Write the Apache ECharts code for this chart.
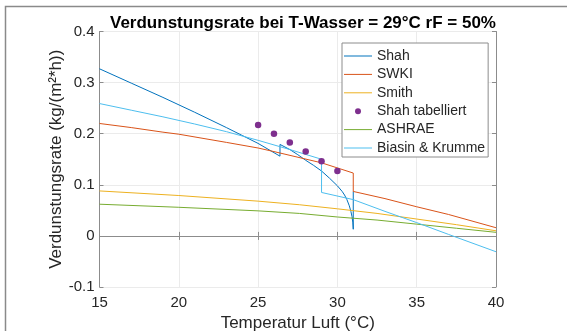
<!DOCTYPE html>
<html><head><meta charset="utf-8">
<script src="https://cdn.jsdelivr.net/npm/echarts@6/dist/echarts.min.js"></script>
<style>html,body{margin:0;padding:0;background:#fff}#c{width:567px;height:331px}</style>
</head><body><div id="c"></div>
<script>
const xTicks = [15, 20, 25, 30, 35, 40];
const yTicks = [-0.1, 0, 0.1, 0.2, 0.3, 0.4];

const shahT = [15, 17, 19, 21, 23, 25, 26.38, 26.38, 27, 27.5, 28, 28.5, 29, 29.5, 30, 30.3, 30.45, 30.6, 30.75, 30.85, 30.92, 30.97, 31, 31];
const shahV = [0.327, 0.299, 0.271, 0.242, 0.212, 0.181, 0.156, 0.179, 0.169, 0.159, 0.148, 0.138, 0.127, 0.113, 0.098, 0.087, 0.080, 0.071, 0.059, 0.048, 0.038, 0.027, 0.013, 0.087];

const swkiT = [15, 17, 19, 20, 23, 25, 26, 29, 31, 31, 33, 35, 37, 40];
const swkiV = [0.220, 0.212, 0.203, 0.199, 0.183, 0.172, 0.165, 0.143, 0.123, 0.087, 0.073, 0.057, 0.042, 0.016];

const smithT = [15, 20, 25, 27.6, 30, 32.5, 35, 37.5, 40];
const smithV = [0.088, 0.079, 0.068, 0.061, 0.053, 0.044, 0.033, 0.022, 0.010];

const tabT = [25, 26, 27, 28, 29, 30];
const tabV = [0.217, 0.200, 0.183, 0.165, 0.146, 0.127];

const ashraeT = [15, 20, 25, 27.6, 30, 32.5, 35, 37.5, 40];
const ashraeV = [0.062, 0.056, 0.049, 0.044, 0.037, 0.031, 0.023, 0.015, 0.007];

const biasinT = [15, 17, 19, 21, 23, 25, 27, 29, 29, 31, 33, 35, 37, 40];
const biasinV = [0.259, 0.246, 0.233, 0.219, 0.204, 0.187, 0.169, 0.150, 0.085, 0.071, 0.048, 0.026, 0.003, -0.031];

const names = ['Shah', 'SWKI', 'Smith', 'Shah tabelliert', 'ASHRAE', 'Biasin & Krumme'];
const colors = ['#0072BD', '#D95319', '#EDB120', '#7E2F8E', '#77AC30', '#4DBEEE'];

const zip = (a, b) => a.map((v, i) => [v, b[i]]);
const FONT = '"Liberation Sans", Arial, sans-serif';

function lineSeries(name, color, T, V) {
  return { name, type: 'line', data: zip(T, V), showSymbol: false, symbol: 'none',
    lineStyle: { color, width: 1 }, itemStyle: { color }, z: 3 };
}

const chart = echarts.init(document.getElementById('c'), null, { renderer: 'canvas' });
const axisColor = '#8c8c8c';
const labelColor = '#262626';
const LINE_ICON = 'path://M0,0H28V1H0Z';
chart.setOption({
  animation: false,
  backgroundColor: '#fff',
  textStyle: { fontFamily: FONT },
  title: { text: 'Verdunstungsrate bei T-Wasser = 29°C rF = 50%', left: 298, textAlign: 'center', top: 10,
    textStyle: { fontFamily: FONT, fontSize: 17, fontWeight: 'bold', color: '#000' } },
  graphic: [{ type: 'rect', shape: { x: 5.5, y: 6.5, width: 700, height: 500 },
    style: { fill: 'none', stroke: '#8a8a8a', lineWidth: 1.5 }, silent: true, z: -10 }],
  legend: {
    orient: 'vertical', left: 342, top: 43, itemWidth: 28, itemHeight: 6, itemGap: 0.4,
    symbolKeepAspect: true,
    padding: [4, 3, 0, 2], backgroundColor: '#fff', borderColor: '#8c8c8c', borderWidth: 1,
    textStyle: { fontFamily: FONT, fontSize: 14, color: labelColor, lineHeight: 18 },
    data: names.map((n, i) => i === 3 ? { name: n, icon: 'circle' } : { name: n, icon: LINE_ICON })
  },
  grid: { left: 99.5, right: 71, top: 31.5, bottom: 44, show: false, containLabel: false, outerBoundsMode: 'none' },
  xAxis: [{
    type: 'value', min: xTicks[0], max: xTicks[xTicks.length - 1], interval: 5,
    name: 'Temperatur Luft (°C)', nameLocation: 'middle', nameGap: 28,
    nameTextStyle: { fontFamily: FONT, fontSize: 17, color: labelColor },
    axisLine: { show: true, lineStyle: { color: axisColor, width: 1 } },
    axisTick: { show: true, inside: true, length: 4, lineStyle: { color: axisColor } },
    axisLabel: { fontFamily: FONT, fontSize: 15, color: labelColor, margin: 8 },
    splitLine: { show: true, lineStyle: { color: '#ebebeb', width: 1 } }
  }, {
    type: 'value', position: 'top', min: xTicks[0], max: xTicks[xTicks.length - 1], interval: 5,
    axisLine: { show: true, lineStyle: { color: axisColor, width: 1 } },
    axisTick: { show: true, inside: true, length: 4, lineStyle: { color: axisColor } },
    axisLabel: { show: false }, splitLine: { show: false }
  }],
  yAxis: [{
    type: 'value', min: yTicks[0], max: yTicks[yTicks.length - 1], interval: 0.1,
    name: 'Verdunstungsrate (kg/(m²*h))', nameLocation: 'middle', nameGap: 35, nameMoveOverlap: false,
    nameTextStyle: { fontFamily: FONT, fontSize: 17, color: labelColor },
    axisLine: { show: true, lineStyle: { color: axisColor, width: 1 } },
    axisTick: { show: true, inside: true, length: 4, lineStyle: { color: axisColor } },
    axisLabel: { fontFamily: FONT, fontSize: 15, color: labelColor, margin: 5,
      formatter: v => String(Math.round(v * 10) / 10) },
    splitLine: { show: true, lineStyle: { color: '#ebebeb', width: 1 } }
  }, {
    type: 'value', position: 'right', min: yTicks[0], max: yTicks[yTicks.length - 1], interval: 0.1,
    axisLine: { show: true, lineStyle: { color: axisColor, width: 1 } },
    axisTick: { show: true, inside: true, length: 4, lineStyle: { color: axisColor } },
    axisLabel: { show: false }, splitLine: { show: false }
  }],
  series: [
    lineSeries(names[0], colors[0], shahT, shahV),
    lineSeries(names[1], colors[1], swkiT, swkiV),
    lineSeries(names[2], colors[2], smithT, smithV),
    { name: names[3], type: 'scatter', data: zip(tabT, tabV), symbol: 'circle', symbolSize: 6.5,
      itemStyle: { color: colors[3], opacity: 1 }, z: 4 },
    lineSeries(names[4], colors[4], ashraeT, ashraeV),
    lineSeries(names[5], colors[5], biasinT, biasinV)
  ]
});
</script></body></html>
